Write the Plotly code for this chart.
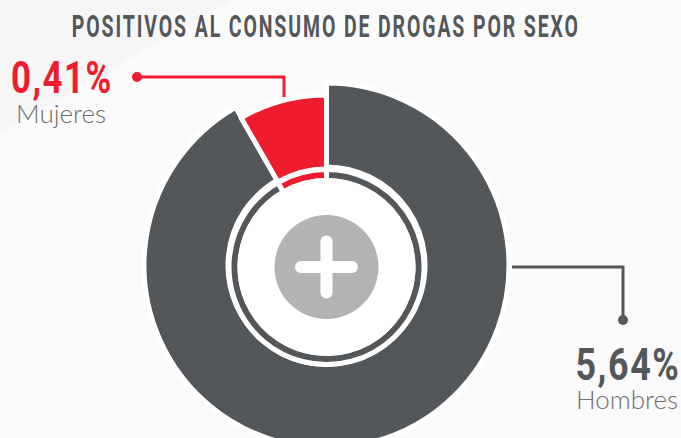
import plotly.graph_objects as go

# Data
sexes = ["Hombres", "Mujeres"]
value_labels = ["5,64%", "0,41%"]
slice_shares = [91.7, 8.3]          # drawn share of each slice, measured on the ring
title_text = "POSITIVOS AL CONSUMO DE DROGAS POR SEXO"

GREY = "#54575a"
RED = "#ef1c2e"
BG = "#fbfbfb"
BAND = "#f6f6f6"
DISC = "#b3b3b2"
LABEL = "#6d6e71"
NONE = "rgba(0,0,0,0)"
W, H = 681, 462
CX, CY = 326.5, 267
OUTER_CY = 265.5
STROKE = 5
HEAD = "Roboto"
BODY = "Lato"


def dom(r, cy):
    return dict(x=[(CX - r) / W, (CX + r) / W],
                y=[(H - cy - r) / H, (H - cy + r) / H])


def ring(r_out, r_in, colors, widths=None, line=NONE, cy=CY):
    # the stroke is centred on the edge, so the drawn ring is padded by half of it
    sw = widths if widths is not None else [0, 0]
    pad = max(sw) / 2
    return go.Pie(labels=sexes, values=slice_shares, sort=False, direction="clockwise",
                  rotation=0, domain=dom(r_out + pad, cy), hole=max(r_in - pad, 0) / (r_out + pad),
                  marker=dict(colors=colors, line=dict(color=line, width=sw)),
                  textinfo="none", hoverinfo="skip", showlegend=False)


fig = go.Figure()
fig.add_trace(ring(184, 0, ["#ffffff", NONE], cy=OUTER_CY))    # halo behind the grey slice
fig.add_trace(ring(180, 101, [GREY, NONE], [STROKE, 0], "#ffffff", cy=OUTER_CY))
fig.add_trace(ring(169, 100, [NONE, RED], [0, STROKE], "#ffffff", cy=CY - 0.5))
fig.add_trace(ring(100, 95, ["#ffffff", "#ffffff"]))
fig.add_trace(ring(95, 89, [GREY, RED], [STROKE, STROKE], "#ffffff"))
fig.add_trace(ring(89, 0, ["#ffffff", "#ffffff"]))


def px(x):
    return x / W


def py(y):
    return (H - y) / H


def seg(x0, y0, x1, y1, color, width):
    return dict(type="line", xref="paper", yref="paper", x0=px(x0), y0=py(y0), x1=px(x1), y1=py(y1),
                line=dict(color=color, width=width), layer="above")


def dot(x, y, r, color):
    return dict(type="circle", xref="paper", yref="paper", x0=px(x - r), x1=px(x + r),
                y0=py(y - r), y1=py(y + r), fillcolor=color, line=dict(width=0), layer="above")


shapes = [
    dict(type="path", xref="paper", yref="paper", layer="below", line=dict(width=0), fillcolor=BAND,
         path=f"M 0 1 L {px(232)} 1 L 0 {py(133)} Z"),
    dot(CX, CY, 52, DISC),
    seg(CX - 25.5, CY, CX + 25.5, CY, "#ffffff", 12),
    seg(CX, CY - 25.5, CX, CY + 25.5, "#ffffff", 12),
]
for s in (-25.5, 25.5):
    shapes.append(dot(CX + s, CY, 6, "#ffffff"))
    shapes.append(dot(CX, CY + s, 6, "#ffffff"))
shapes += [
    seg(137, 77, 285, 77, RED, 3), seg(284, 76, 284, 97, RED, 3), dot(137, 77, 5, RED),
    seg(512, 267, 624, 267, GREY, 3), seg(623, 266, 623, 320, GREY, 3), dot(623, 320, 5, GREY),
]


def label(x, y, text, size, color, family, weight="normal"):
    return dict(xref="paper", yref="paper", x=px(x), y=py(y), text=text, showarrow=False,
                xanchor="center", yanchor="middle",
                font=dict(size=size, color=color, family=family, weight=weight))


annotations = [
    label(325.5, 26.5, title_text, 31, GREY, HEAD, "bold"),
    label(62, 78, value_labels[1], 45, RED, HEAD, "bold"),
    label(61, 113, sexes[1], 26, LABEL, BODY, 300),
    label(628, 364, value_labels[0], 45, GREY, HEAD, "bold"),
    label(627, 399, sexes[0], 26, LABEL, BODY, 300),
]

fig.update_layout(width=W, height=H, autosize=False, margin=dict(l=0, r=0, t=0, b=0, pad=0),
                  paper_bgcolor=BG, plot_bgcolor=BG, shapes=shapes, annotations=annotations)

# the reference's condensed display face is not installed: fit the heading texts to its widths
fig.write_html("out.html", config=dict(displayModeBar=False),
               post_script="""
document.body.style.margin='0';document.body.style.overflow='hidden';
document.documentElement.style.overflow='hidden';
var widths=[508,102,null,105,null], spacing=[3,2,0,2,0];
document.querySelectorAll('.annotation-text').forEach(function(t,i){
  if(widths[i]){t.style.letterSpacing=spacing[i]+'px';
    t.setAttribute('textLength',widths[i]);t.setAttribute('lengthAdjust','spacingAndGlyphs');}
});
""")
